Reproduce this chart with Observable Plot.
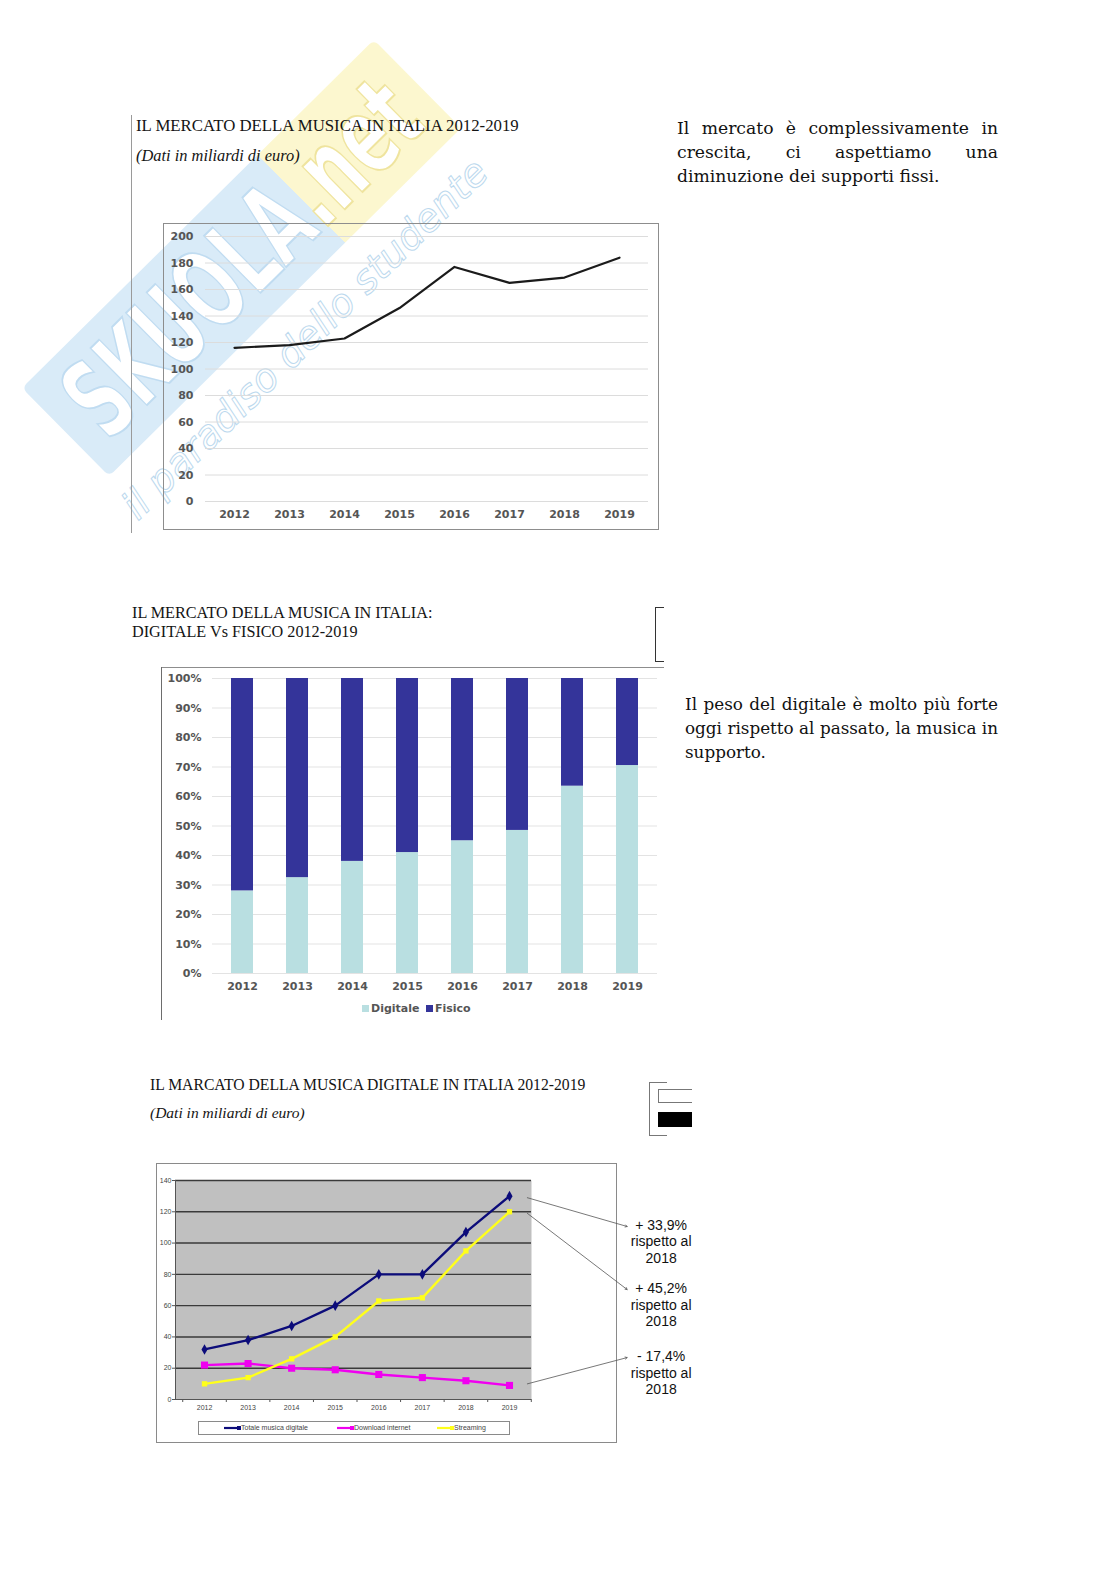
<!DOCTYPE html>
<html><head><meta charset="utf-8">
<script src="https://cdn.jsdelivr.net/npm/d3@7"></script>
<script src="https://cdn.jsdelivr.net/npm/@observablehq/plot@0.6"></script>
<style>
html,body{margin:0;padding:0;background:#fff;overflow:hidden;width:1116px;height:1579px;}
#page{position:relative;width:1116px;height:1579px;overflow:hidden;background:#fff;}
.abs{position:absolute;}
.ttl{position:absolute;font-family:"Liberation Serif",serif;color:#141414;white-space:nowrap;line-height:1;}
.it{font-style:italic;}
.para{position:absolute;font-family:"DejaVu Serif",serif;color:#111;line-height:24px;}
.j{text-align:justify;text-align-last:justify;white-space:nowrap;}
.leg2{position:absolute;font-family:"DejaVu Sans",sans-serif;font-weight:bold;font-size:11px;color:#555;white-space:nowrap;}
.leg3{position:absolute;font-family:"Liberation Sans",sans-serif;font-size:7px;color:#444;white-space:nowrap;}
#wm{position:absolute;left:-6px;top:196px;width:495px;height:124px;transform:rotate(-44.7deg);
  background:linear-gradient(to right,#d9ebf8 0%,#d9ebf8 67%,#fcf7cf 67%,#fcf7cf 100%);border-radius:6px;
  display:flex;align-items:center;justify-content:center;}
#wm > span{display:inline-block;font-family:"DejaVu Sans",sans-serif;font-weight:bold;font-size:110px;line-height:110px;
  transform:scaleX(0.6);white-space:nowrap;color:#fff;}
#wm .b{-webkit-text-stroke:2px #c0dcf1;}
#wm .y{-webkit-text-stroke:2px #efe49e;}
#wm2{position:absolute;left:55px;top:316px;width:500px;height:46px;transform:rotate(-44.5deg);
  font-family:"DejaVu Sans",sans-serif;font-style:italic;font-size:39px;line-height:46px;color:transparent;
  -webkit-text-stroke:1px #bcd9ee;white-space:nowrap;text-align:center;}
</style></head><body>
<div id="page">
  <!-- watermark -->
  <div id="wm"><span><span class="b">SKUOLA</span><span class="y">.net</span></span></div>
  <div id="wm2">il paradiso dello studente</div>

  <!-- chart 1 -->
  <div class="abs" style="left:131px;top:115px;width:1px;height:418px;background:#9a9a9a"></div>
  <div class="ttl" style="left:136px;top:118px;font-size:16.8px;">IL MERCATO DELLA MUSICA IN ITALIA 2012-2019</div>
  <div class="ttl it" style="left:136px;top:148px;font-size:16.4px;">(Dati in miliardi di euro)</div>
  <div class="abs" style="left:163px;top:223px;width:496px;height:307px;box-sizing:border-box;border:1.5px solid #8d8d8d"></div>
  <div id="c1" class="abs" style="left:164px;top:224px"></div>

  <div class="para" style="left:677px;top:116px;width:321px;font-size:17.2px">
    <div class="j">Il mercato è complessivamente in</div>
    <div class="j">crescita, ci aspettiamo una</div>
    <div>diminuzione dei supporti fissi.</div>
  </div>

  <!-- chart 2 -->
  <div class="ttl" style="left:132px;top:605px;font-size:16.2px;">IL MERCATO DELLA MUSICA IN ITALIA:</div>
  <div class="ttl" style="left:132px;top:624px;font-size:16.2px;">DIGITALE Vs FISICO 2012-2019</div>
  <div class="abs" style="left:655px;top:607px;width:9px;height:55px;box-sizing:border-box;border:1.5px solid #333;border-right:none"></div>
  <div class="abs" style="left:161px;top:667px;width:503px;height:1px;background:#8d8d8d"></div>
  <div class="abs" style="left:161px;top:667px;width:1px;height:353px;background:#6d6d6d"></div>
  <div id="c2" class="abs" style="left:161px;top:667px"></div>
  <div class="abs" style="left:362px;top:1005px;width:7px;height:7px;background:#b9dfe1"></div>
  <div class="leg2" style="left:371px;top:1002px">Digitale</div>
  <div class="abs" style="left:426px;top:1005px;width:7px;height:7px;background:#34349a"></div>
  <div class="leg2" style="left:435px;top:1002px">Fisico</div>

  <div class="para" style="left:685px;top:692px;width:313px;font-size:16.8px">
    <div class="j">Il peso del digitale è molto più forte</div>
    <div class="j">oggi rispetto al passato, la musica in</div>
    <div>supporto.</div>
  </div>

  <!-- chart 3 -->
  <div class="ttl" style="left:150px;top:1077px;font-size:15.7px;">IL MARCATO DELLA MUSICA DIGITALE IN ITALIA 2012-2019</div>
  <div class="ttl it" style="left:150px;top:1105px;font-size:15.5px;">(Dati in miliardi di euro)</div>
  <div class="abs" style="left:649px;top:1082px;width:18px;height:54px;box-sizing:border-box;border:1px solid #777;border-right:none"></div>
  <div class="abs" style="left:658px;top:1089px;width:34px;height:14px;box-sizing:border-box;border:1px solid #777;border-right:none;background:#fff"></div>
  <div class="abs" style="left:658px;top:1112px;width:34px;height:15px;background:#000"></div>
  <div class="abs" style="left:156px;top:1163px;width:461px;height:280px;box-sizing:border-box;border:1px solid #8a8a8a"></div>
  <div id="c3" class="abs" style="left:156px;top:1163px"></div>
  <div class="abs" style="left:198px;top:1421px;width:312px;height:14px;box-sizing:border-box;border:1px solid #8a8a8a;background:#fff"></div>
  <div id="l3" class="abs" style="left:198px;top:1421px;width:312px;height:14px"></div>
</div>
<script>
// ---------- data ----------
const years = ["2012","2013","2014","2015","2016","2017","2018","2019"];
// Chart 1: mercato della musica in Italia
const mercatoTotale = [116, 118, 123, 146, 177, 165, 169, 184];
const ticks1 = [0, 20, 40, 60, 80, 100, 120, 140, 160, 180, 200];
// Chart 2: quota digitale vs fisico (%)
const serie2 = ["Digitale", "Fisico"];
const quotaDigitale = [28, 32.5, 38, 41, 45, 48.5, 63.5, 70.5];
const quotaFisico = [72, 67.5, 62, 59, 55, 51.5, 36.5, 29.5];
const ticks2 = [0, 10, 20, 30, 40, 50, 60, 70, 80, 90, 100];
// Chart 3: musica digitale
const serie3 = ["Totale musica digitale", "Download internet", "Streaming"];
const totaleDigitale = [32, 38, 47, 60, 80, 80, 107, 130];
const downloadInternet = [22, 23, 20, 19, 16, 14, 12, 9];
const streaming = [10, 14, 26, 40, 63, 65, 95, 120];
const ticks3 = [0, 20, 40, 60, 80, 100, 120, 140];
const annotLabels = ["+ 33,9%\nrispetto al\n2018", "+ 45,2%\nrispetto al\n2018", "- 17,4%\nrispetto al\n2018"];
const annotFrom = [129, 119, 10];
const annotTo = [110.6, 70.3, 26.8];

// ---------- chart 1 ----------
const data1 = years.map((y, i) => ({year: y, value: mercatoTotale[i]}));
const c1 = Plot.plot({
  width: 494, height: 305,
  marginLeft: 41, marginRight: 10, marginTop: 12, marginBottom: 28,
  style: {fontFamily: "DejaVu Sans", fontSize: "11px", fontWeight: "bold", color: "#555", background: "transparent"},
  x: {type: "point", domain: years, padding: 0.5, label: null},
  y: {domain: [0, 200], label: null},
  marks: [
    Plot.gridY(ticks1, {stroke: "#dcdcdc", strokeOpacity: 1}),
    Plot.axisY(ticks1, {tickSize: 0, tickPadding: 12, label: null}),
    Plot.axisX({tickSize: 0, tickPadding: 9, label: null}),
    Plot.lineY(data1, {x: "year", y: "value", stroke: "#1b1b1b", strokeWidth: 2.2})
  ]
});
document.getElementById("c1").appendChild(c1);

// ---------- chart 2 ----------
const data2 = years.flatMap((y, i) => [
  {year: y, serie: serie2[0], value: quotaDigitale[i]},
  {year: y, serie: serie2[1], value: quotaFisico[i]}
]);
const c2 = Plot.plot({
  width: 503, height: 353,
  marginLeft: 51, marginRight: 7, marginTop: 11, marginBottom: 47,
  style: {fontFamily: "DejaVu Sans", fontSize: "11px", fontWeight: "bold", color: "#555", background: "transparent"},
  x: {type: "band", domain: years, paddingInner: 0.6, paddingOuter: 0.3, label: null},
  y: {domain: [0, 100], label: null},
  color: {domain: serie2, range: ["#b9dfe1", "#34349a"]},
  marks: [
    Plot.gridY(ticks2, {stroke: "#e3e3e3", strokeOpacity: 1}),
    Plot.axisY(ticks2, {tickSize: 0, tickPadding: 11, tickFormat: d => d + "%", label: null}),
    Plot.axisX({tickSize: 0, tickPadding: 9, label: null}),
    Plot.barY(data2, Plot.stackY({x: "year", y: "value", fill: "serie"}))
  ]
});
document.getElementById("c2").appendChild(c2);

// ---------- chart 3 ----------
const yearNum = years.map(Number);
const data3 = yearNum.flatMap((y, i) => [
  {year: y, serie: serie3[0], value: totaleDigitale[i]},
  {year: y, serie: serie3[1], value: downloadInternet[i]},
  {year: y, serie: serie3[2], value: streaming[i]}
]);
const colors3 = ["#0c0c7a", "#f000f0", "#ffff1a"];
const boundaries = [2011.5, ...yearNum.map(y => y + 0.5)];
const annots = annotLabels.map((t, i) => ({label: t, x1: 2019.41, y1: annotFrom[i], x2: 2021.7, y2: annotTo[i]}));
const c3 = Plot.plot({
  width: 544, height: 279,
  marginLeft: 19, marginRight: 169, marginTop: 17, marginBottom: 43,
  style: {fontFamily: "Liberation Sans", fontSize: "7px", color: "#444", background: "transparent", overflow: "visible"},
  x: {type: "linear", domain: [2011.334, 2019.505], label: null},
  y: {domain: [0, 140], label: null},
  color: {domain: serie3, range: colors3},
  marks: [
    Plot.frame({fill: "#c0c0c0", stroke: null}),
    Plot.gridY(ticks3.slice(1), {stroke: "#3a3a3a", strokeOpacity: 1, strokeWidth: 1.4}),
    Plot.ruleX([2011.334], {stroke: "#555"}),
    Plot.ruleY([0], {stroke: "#555"}),
    Plot.axisY(ticks3, {tickSize: 3, tickPadding: 1, label: null, stroke: "#555"}),
    Plot.axisX(boundaries, {tickSize: 3, tickFormat: () => "", label: null, stroke: "#555"}),
    Plot.axisX(yearNum, {tickSize: 0, tickPadding: 6, tickFormat: d => String(d), label: null}),
    Plot.lineY(data3, {x: "year", y: "value", stroke: "serie", strokeWidth: 2.4}),
    Plot.dot(data3.filter(d => d.serie === serie3[0]), {x: "year", y: "value", fill: colors3[0], symbol: "diamond", r: 3.2}),
    Plot.dot(data3.filter(d => d.serie === serie3[1]), {x: "year", y: "value", fill: colors3[1], symbol: "square", r: 4}),
    Plot.dot(data3.filter(d => d.serie === serie3[2]), {x: "year", y: "value", fill: colors3[2], symbol: "square", r: 3}),
    Plot.arrow(annots, {x1: "x1", y1: "y1", x2: "x2", y2: "y2", stroke: "#555", strokeWidth: 0.8, headLength: 4, headAngle: 60}),
    Plot.text(annots, {x: "x2", y: "y2", text: "label", dx: 34, dy: -8, lineAnchor: "top", textAnchor: "middle",
      fontSize: 14, fontFamily: "Liberation Sans", fill: "#111", lineHeight: 1.17})
  ]
});
document.getElementById("c3").appendChild(c3);

// legend chart 3
const l3 = document.getElementById("l3");
const legPos = [26, 139, 239];
serie3.forEach((s, i) => {
  const x = legPos[i];
  const sw = document.createElementNS("http://www.w3.org/2000/svg", "svg");
  sw.setAttribute("width", 18); sw.setAttribute("height", 14);
  sw.style.position = "absolute"; sw.style.left = x + "px"; sw.style.top = "0px";
  const ln = document.createElementNS("http://www.w3.org/2000/svg", "line");
  ln.setAttribute("x1", 0); ln.setAttribute("x2", 17); ln.setAttribute("y1", 7); ln.setAttribute("y2", 7);
  ln.setAttribute("stroke", colors3[i]); ln.setAttribute("stroke-width", 2.2);
  sw.appendChild(ln);
  const mk = document.createElementNS("http://www.w3.org/2000/svg", "rect");
  mk.setAttribute("x", 13); mk.setAttribute("y", 5); mk.setAttribute("width", 4); mk.setAttribute("height", 4);
  mk.setAttribute("fill", colors3[i]);
  sw.appendChild(mk);
  l3.appendChild(sw);
  const t = document.createElement("div");
  t.className = "leg3"; t.style.left = (x + 17) + "px"; t.style.top = "3px"; t.textContent = s;
  l3.appendChild(t);
});
</script>
</body></html>
